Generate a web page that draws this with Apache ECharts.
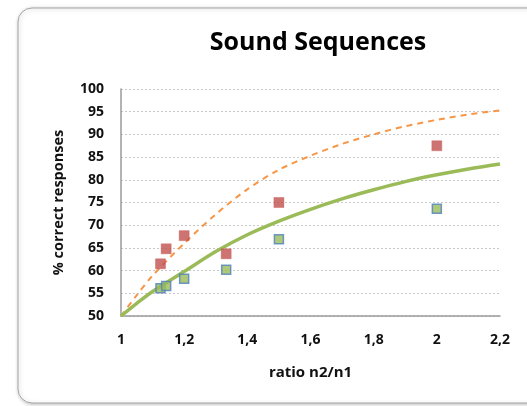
<!DOCTYPE html>
<html>
<head>
<meta charset="utf-8">
<script src="https://cdn.jsdelivr.net/npm/echarts@6/dist/echarts.min.js"></script>
<style>
  html, body { margin: 0; padding: 0; background: #fff; }
  #chart { width: 527px; height: 406px; }
</style>
</head>
<body>
<div id="chart"></div>
<script>
// ratios n2/n1 of the measured conditions
const ratios = [1.125, 1.143, 1.2, 1.333, 1.5, 2];
const redValues = [61.5, 64.8, 67.7, 63.7, 75, 87.5];
const greenValues = [56.1, 56.6, 58.2, 60.2, 66.9, 73.6];

// fitted curves
const curveX = [1, 1.05, 1.1, 1.2, 1.3, 1.4, 1.5, 1.6, 1.7, 1.8, 1.9, 2, 2.1, 2.2];
const orangeCurve = [50, 54.6, 58.9, 66, 72.4, 77.9, 82.2, 85.3, 87.9, 90, 91.8, 93.2, 94.4, 95.3];
const greenCurve = [50, 52.8, 55.4, 59.8, 64.2, 67.9, 70.9, 73.5, 75.8, 77.8, 79.6, 81.1, 82.4, 83.5];

const chart = echarts.init(document.getElementById('chart'));

const pairs = (xs, ys) => xs.map((x, i) => [x, ys[i]]);
const comma = v => String(Math.round(v * 10) / 10).replace('.', ',');

const option = {
  animation: false,
  graphic: [
    {
      type: 'rect',
      z: -10,
      shape: { x: 18, y: 8, width: 540, height: 395, r: 14 },
      style: {
        fill: '#fff',
        stroke: '#a6a6a6',
        lineWidth: 1,
        shadowBlur: 4,
        shadowColor: 'rgba(0,0,0,0.25)',
        shadowOffsetX: 1,
        shadowOffsetY: 1
      }
    }
  ],
  title: {
    text: 'Sound Sequences',
    left: 313,
    top: 25,
    textAlign: 'center',
    textStyle: {
      fontFamily: 'Open Sans',
      fontWeight: 'bold',
      fontSize: 25,
      color: '#000'
    }
  },
  grid: { left: 121, right: 27, top: 89, bottom: 90 },
  xAxis: {
    type: 'value',
    min: 1,
    max: 2.2,
    interval: 0.2,
    name: 'ratio n2/n1',
    nameLocation: 'middle',
    nameGap: 49,
    nameTextStyle: { fontFamily: 'Open Sans', fontWeight: 'bold', fontSize: 15, color: '#111' },
    axisLine: { lineStyle: { color: '#9a9a9a', width: 1.5 } },
    axisTick: { show: false },
    axisLabel: {
      margin: 17,
      fontFamily: 'Open Sans',
      fontWeight: 'bold',
      fontSize: 14,
      color: '#111',
      formatter: comma
    },
    splitLine: { show: false }
  },
  yAxis: {
    type: 'value',
    min: 50,
    max: 100,
    interval: 5,
    name: '% correct responses',
    nameLocation: 'middle',
    nameGap: 55,
    nameRotate: 90,
    nameTextStyle: { fontFamily: 'Open Sans', fontWeight: 'bold', fontSize: 14.5, color: '#111' },
    axisLine: { show: true, lineStyle: { color: '#9a9a9a', width: 1.5 } },
    axisTick: { show: false },
    axisLabel: {
      margin: 17,
      fontFamily: 'Open Sans',
      fontWeight: 'bold',
      fontSize: 14,
      color: '#111'
    },
    splitLine: {
      lineStyle: { color: '#c8c8c8', type: [2, 2], width: 1 }
    }
  },
  series: [
    {
      name: 'fit red',
      type: 'line',
      smooth: 0.3,
      showSymbol: false,
      data: pairs(curveX, orangeCurve),
      lineStyle: { color: '#f79646', width: 2, type: [6, 5] },
      z: 2
    },
    {
      name: 'fit green',
      type: 'line',
      smooth: 0.3,
      showSymbol: false,
      data: pairs(curveX, greenCurve),
      lineStyle: { color: '#9bbb59', width: 3.5 },
      z: 2
    },
    {
      name: 'red',
      type: 'scatter',
      symbol: 'rect',
      symbolSize: 10,
      data: pairs(ratios, redValues),
      itemStyle: { color: '#c0504d', borderColor: '#c85a57', borderWidth: 0.5 },
      z: 3
    },
    {
      name: 'green',
      type: 'scatter',
      symbol: 'rect',
      symbolSize: 9,
      data: pairs(ratios, greenValues),
      itemStyle: { color: '#9bbb59', borderColor: '#4f81bd', borderWidth: 1.5 },
      z: 3
    }
  ]
};

chart.setOption(option);
</script>
</body>
</html>
